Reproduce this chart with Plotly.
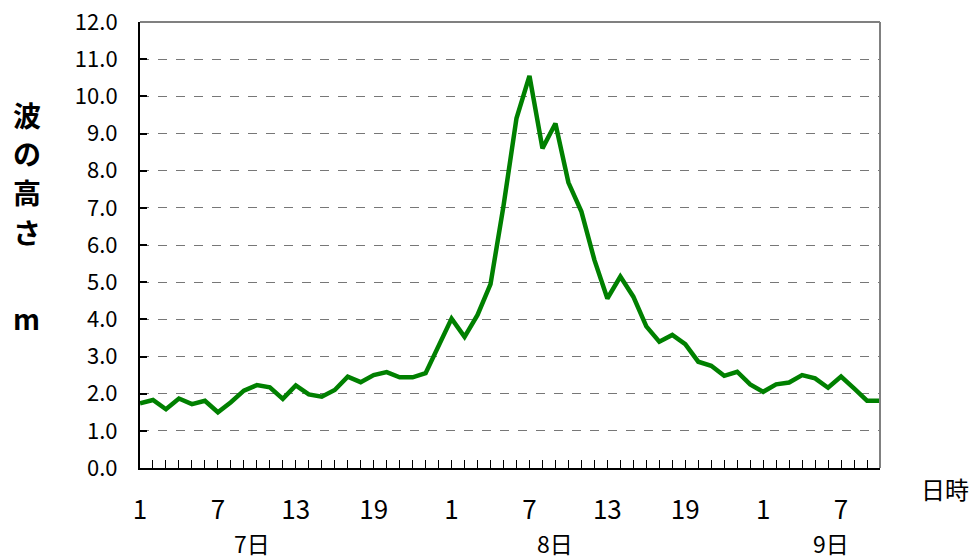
import plotly.graph_objects as go

hours = [1,2,3,4,5,6,7,8,9,10,11,12,13,14,15,16,17,18,19,20,21,22,23,24,
         1,2,3,4,5,6,7,8,9,10,11,12,13,14,15,16,17,18,19,20,21,22,23,24,
         1,2,3,4,5,6,7,8,9,10]
wave_height = [1.74,1.83,1.58,1.87,1.72,1.81,1.50,1.77,2.08,2.23,2.17,1.86,2.22,1.98,1.92,2.10,
               2.46,2.31,2.50,2.58,2.44,2.44,2.55,3.30,4.02,3.53,4.12,4.95,7.05,9.41,10.55,8.60,
               9.27,7.68,6.90,5.60,4.56,5.15,4.61,3.81,3.40,3.58,3.33,2.86,2.75,2.48,2.59,2.25,
               2.05,2.25,2.30,2.50,2.41,2.16,2.46,2.14,1.81,1.81]
labeled_hours = [1, 7, 13, 19]
day_labels = ["7日", "8日", "9日"]
day_label_pos = [8.6, 32.0, 53.2]
y_title_chars = ["波", "の", "高", "さ", "m"]
y_title_pos = [0.791, 0.706, 0.619, 0.529, 0.336]

idx = list(range(len(wave_height)))
ticktext = [str(h) if h in labeled_hours else "" for h in hours]

JP = "Noto Sans CJK JP"

fig = go.Figure()
fig.add_trace(go.Scatter(x=idx, y=wave_height, mode="lines",
                         line=dict(color="#008000", width=4.5), hoverinfo="skip"))

fig.update_layout(
    width=975, height=560,
    margin=dict(l=140, r=95, t=22, b=92),
    paper_bgcolor="white", plot_bgcolor="white",
    showlegend=False,
    font=dict(family=JP, color="black"),
    xaxis=dict(range=[0, len(wave_height) - 1], tickmode="array", tickvals=idx, ticktext=ticktext,
               ticks="inside", ticklen=8, tickcolor="black", tickwidth=1,
               showline=True, linecolor="black", linewidth=2, showgrid=False, zeroline=False,
               tickfont=dict(family=JP, size=26), ticklabelstandoff=18, automargin=False),
    yaxis=dict(range=[0, 12], tickmode="linear", tick0=0, dtick=1, tickformat=".1f",
               ticks="inside", ticklen=7, tickcolor="black", tickwidth=1.5,
               showline=True, linecolor="black", linewidth=2,
               showgrid=True, gridcolor="#777777", griddash="dash", gridwidth=1.2, zeroline=False,
               tickfont=dict(family=JP, size=22), ticklabelstandoff=16, automargin=False),
)

# top and right borders (gray)
fig.add_shape(type="line", xref="paper", yref="paper", x0=0, x1=1, y0=1, y1=1,
              line=dict(color="#808080", width=2))
fig.add_shape(type="line", xref="paper", yref="paper", x0=1, x1=1, y0=0, y1=1,
              line=dict(color="#808080", width=2))

for lab, pos in zip(day_labels, day_label_pos):
    fig.add_annotation(x=pos, xref="x", y=-0.168, yref="paper", text=lab, showarrow=False,
                       font=dict(family=JP, size=23), xanchor="center", yanchor="middle",
                       borderpad=0)

fig.add_annotation(x=1.088, xref="paper", y=-0.045, yref="paper", text="日時", showarrow=False,
                   font=dict(family=JP, size=24), xanchor="center", yanchor="middle")

for ch, pos in zip(y_title_chars, y_title_pos):
    fig.add_annotation(x=-0.153, xref="paper", y=pos, yref="paper", text="<b>" + ch + "</b>",
                       showarrow=False, font=dict(family=JP, size=28),
                       xanchor="center", yanchor="middle")

fig.write_html("out.html", config={"displayModeBar": False},
               post_script="document.body.style.margin='0';document.body.style.overflow='hidden';")
